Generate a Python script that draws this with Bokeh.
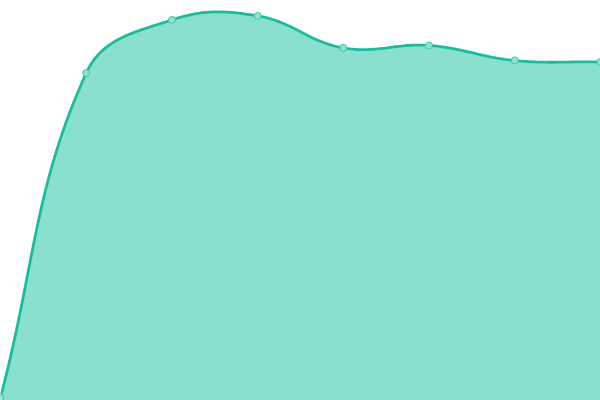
import numpy as np
from bokeh.plotting import figure
from bokeh.models import Range1d
from bokeh.embed import file_html
from bokeh.resources import INLINE

# data
categories = [0, 1, 2, 3, 4, 5, 6, 7]
values = [0, 81.1, 94.4, 95.4, 87.4, 88.0, 84.25, 83.9]

W, H = 600, 400
X0, X1 = 0, 7
Y0, Y1 = -0.75, 99.25
sx = W / (X1 - X0)
sy = H / (Y1 - Y0)

# Chart.js-like bezier smoothing (tension 0.4), computed in pixel space
px = np.array(categories, float) * sx
py = np.array(values, float) * sy
t = 0.4
n = len(px)
cp_prev = []
cp_next = []
for i in range(n):
    prev = (px[max(i - 1, 0)], py[max(i - 1, 0)])
    cur = (px[i], py[i])
    nxt = (px[min(i + 1, n - 1)], py[min(i + 1, n - 1)])
    d01 = np.hypot(cur[0] - prev[0], cur[1] - prev[1])
    d12 = np.hypot(nxt[0] - cur[0], nxt[1] - cur[1])
    s01 = d01 / (d01 + d12) if d01 + d12 else 0
    s12 = d12 / (d01 + d12) if d01 + d12 else 0
    fa = t * s01
    fb = t * s12
    cp_prev.append((cur[0] - fa * (nxt[0] - prev[0]), cur[1] - fa * (nxt[1] - prev[1])))
    cp_next.append((cur[0] + fb * (nxt[0] - prev[0]), cur[1] + fb * (nxt[1] - prev[1])))

xs, ys = [], []
tt = np.linspace(0, 1, 40)
for i in range(n - 1):
    p0 = np.array([px[i], py[i]])
    p1 = np.array(cp_next[i])
    p2 = np.array(cp_prev[i + 1])
    p3 = np.array([px[i + 1], py[i + 1]])
    for u in tt[:-1] if i < n - 2 else tt:
        b = ((1 - u) ** 3) * p0 + 3 * ((1 - u) ** 2) * u * p1 + 3 * (1 - u) * u * u * p2 + u ** 3 * p3
        xs.append(b[0] / sx)
        ys.append(min(max(b[1] / sy, Y0), Y1))

p = figure(width=W, height=H, x_range=Range1d(X0, X1), y_range=Range1d(Y0, Y1),
           output_backend="svg", toolbar_location=None,
           min_border=0, min_border_left=0, min_border_right=0,
           min_border_top=0, min_border_bottom=0)
p.axis.visible = False
p.grid.visible = False
p.outline_line_color = None
p.background_fill_color = "white"
p.border_fill_color = "white"

p.varea(x=xs, y1=[Y0] * len(xs), y2=ys, fill_color="#89e0cf")
p.line(xs, ys, line_color="#1abc9c", line_width=2.8)
p.scatter(categories, values, size=7, fill_color="#8fe2d2", line_color="#3cc9a8", line_width=1)

html = file_html(p, INLINE)
html = html.replace("<head>", "<head><style>html,body{margin:0;padding:0;overflow:hidden}</style>", 1)
open("out.html", "w").write(html)
